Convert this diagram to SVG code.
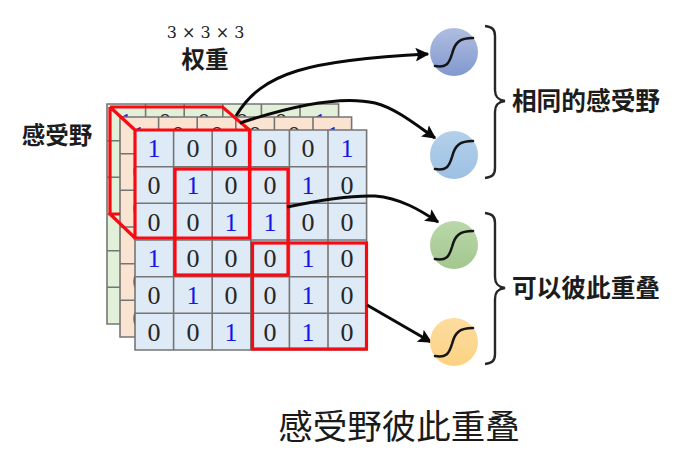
<svg xmlns="http://www.w3.org/2000/svg" width="698" height="463" viewBox="0 0 698 463">
<style>
.grid{stroke:#757575;stroke-width:1.6}
.d{font-family:"Liberation Serif",serif;font-size:26px;text-anchor:middle;fill:#262626}
.b{fill:#1414e6}
.red{fill:none;stroke:#f70a12;stroke-width:3.2;stroke-linejoin:miter}
.arrow{fill:none;stroke:#0a0a0a;stroke-width:3;marker-end:url(#ah)}
.s{fill:none;stroke:#161616;stroke-width:2.6;stroke-linecap:round}
.brace{fill:none;stroke:#262626;stroke-width:2.4}
.lab{font-family:"Noto Sans CJK SC",sans-serif;font-weight:700;font-size:23.5px;fill:#1c1c1c;text-anchor:middle}
.lab2{font-size:24.7px}
</style>
<defs>
<marker id="ah" viewBox="0 0 10 10" refX="9" refY="5" markerWidth="4.6" markerHeight="4.6" orient="auto" markerUnits="strokeWidth"><path d="M0 0L10 5L0 10L2 5Z" fill="#0a0a0a"/></marker>
<linearGradient id="g1" x1="0" y1="0" x2="0" y2="1"><stop offset="0" stop-color="#b0bde0"/><stop offset="1" stop-color="#8199cf"/></linearGradient>
<linearGradient id="g2" x1="0" y1="0" x2="0" y2="1"><stop offset="0" stop-color="#b4d0ea"/><stop offset="1" stop-color="#9cc0e4"/></linearGradient>
<linearGradient id="g3" x1="0" y1="0" x2="0" y2="1"><stop offset="0" stop-color="#bad8a9"/><stop offset="1" stop-color="#a3c78f"/></linearGradient>
<linearGradient id="g4" x1="0" y1="0" x2="0" y2="1"><stop offset="0" stop-color="#fcdca0"/><stop offset="1" stop-color="#fdd283"/></linearGradient>
<path id="sig" d="M-19 14C-8 16 -5 12 -2 2C1 -10 6 -14 19 -14"/>
<path id="gridlines" d="M0 0H231.6V220H0ZM38.6 0V220M77.2 0V220M115.8 0V220M154.4 0V220M193 0V220M0 36.7H231.6M0 73.3H231.6M0 110H231.6M0 146.7H231.6M0 183.3H231.6"/>
</defs>
<rect width="698" height="463" fill="#fff"/>
<g id="layer-green">
<rect x="107" y="104" width="231.6" height="220" fill="#e2efd9"/>
<use href="#gridlines" x="107" y="104" fill="none" class="grid"/>
<text class="d b" x="126" y="131">1</text><text class="d" x="165" y="131">0</text><text class="d" x="204" y="131">0</text><text class="d" x="242" y="131">0</text><text class="d" x="281" y="131">0</text><text class="d b" x="320" y="131">1</text>
</g>
<g id="layer-orange">
<rect x="120" y="117" width="231.6" height="220" fill="#fbe3d2"/>
<use href="#gridlines" x="120" y="117" fill="none" class="grid"/>
<text class="d b" x="139" y="144">1</text><text class="d" x="178" y="144">0</text><text class="d" x="217" y="144">0</text><text class="d" x="255" y="144">0</text><text class="d" x="294" y="144">0</text><text class="d b" x="333" y="144">1</text>
<text class="d" x="139" y="180">0</text><text class="d" x="139" y="217">0</text><text class="d b" x="139" y="254">1</text><text class="d" x="139" y="290">0</text><text class="d" x="139" y="327">0</text>
</g>
<g id="layer-front">
<rect x="135" y="130" width="231.6" height="220" fill="#deeaf6"/>
<use href="#gridlines" x="135" y="130" fill="none" class="grid"/>
<text class="d b" x="154" y="157">1</text><text class="d" x="193" y="157">0</text><text class="d" x="231" y="157">0</text><text class="d" x="270" y="157">0</text><text class="d" x="308" y="157">0</text><text class="d b" x="347" y="157">1</text>
<text class="d" x="154" y="194">0</text><text class="d b" x="193" y="194">1</text><text class="d" x="231" y="194">0</text><text class="d" x="270" y="194">0</text><text class="d b" x="308" y="194">1</text><text class="d" x="347" y="194">0</text>
<text class="d" x="154" y="231">0</text><text class="d" x="193" y="231">0</text><text class="d b" x="231" y="231">1</text><text class="d b" x="270" y="231">1</text><text class="d" x="308" y="231">0</text><text class="d" x="347" y="231">0</text>
<text class="d b" x="154" y="267">1</text><text class="d" x="193" y="267">0</text><text class="d" x="231" y="267">0</text><text class="d" x="270" y="267">0</text><text class="d b" x="308" y="267">1</text><text class="d" x="347" y="267">0</text>
<text class="d" x="154" y="304">0</text><text class="d b" x="193" y="304">1</text><text class="d" x="231" y="304">0</text><text class="d" x="270" y="304">0</text><text class="d b" x="308" y="304">1</text><text class="d" x="347" y="304">0</text>
<text class="d" x="154" y="341">0</text><text class="d" x="193" y="341">0</text><text class="d b" x="231" y="341">1</text><text class="d" x="270" y="341">0</text><text class="d b" x="308" y="341">1</text><text class="d" x="347" y="341">0</text>
</g>
<g id="red-boxes">
<path class="red" d="M135 130H249.5V238H135ZM110 107H222.5L249.5 130M110 107V214H120M110 214L135 238M110 107L135 130"/>
<rect class="red" x="175" y="169" width="113" height="106"/>
<rect class="red" x="252.5" y="243" width="114" height="106"/>
</g>
<g id="connectors">
<path class="arrow" d="M236 116C262 72 310 60 428 54"/>
<path class="arrow" d="M240 123C300 103 345 96 375 103C395 108 415 124 435 138"/>
<path class="arrow" d="M287 207C320 200 350 195 375 196C400 198 420 210 438 222"/>
<path class="arrow" d="M367 305L431 342"/>
</g>
<g id="node-blue-1"><circle cx="454" cy="52" r="24" fill="url(#g1)"/><use href="#sig" x="454" y="52" class="s"/></g>
<g id="node-blue-2"><circle cx="454" cy="155" r="24" fill="url(#g2)"/><use href="#sig" x="454" y="155" class="s"/></g>
<g id="node-green"><circle cx="454" cy="245" r="24" fill="url(#g3)"/><use href="#sig" x="454" y="245" class="s"/></g>
<g id="node-orange"><circle cx="454" cy="342" r="24" fill="url(#g4)"/><use href="#sig" x="454" y="342" class="s"/></g>
<g id="braces">
<path class="brace" d="M485 26C492 27 495 29 495 36V90C495 97 498 100 505 101C498 102 495 105 495 112V168C495 175 492 177 485 178"/>
<path class="brace" d="M485 213C492 214 495 216 495 223V277C495 284 498 287 505 288C498 289 495 292 495 299V354C495 361 492 363 485 364"/>
</g>
<g id="labels">
<text x="205.500" y="38" font-family="'DejaVu Serif',serif" font-size="16" fill="#222" text-anchor="middle" xml:space="preserve">3 × 3 × 3</text>
<text class="lab" x="205" y="68">权重</text>
<text class="lab" x="57" y="144">感受野</text>
<text class="lab lab2" x="586" y="110">相同的感受野</text>
<text class="lab lab2" x="586" y="297">可以彼此重叠</text>
<text x="399" y="439" font-family="'Noto Sans CJK SC',sans-serif" font-size="34.500" font-weight="400" fill="#1a1a1a" text-anchor="middle">感受野彼此重叠</text>
</g>
</svg>
